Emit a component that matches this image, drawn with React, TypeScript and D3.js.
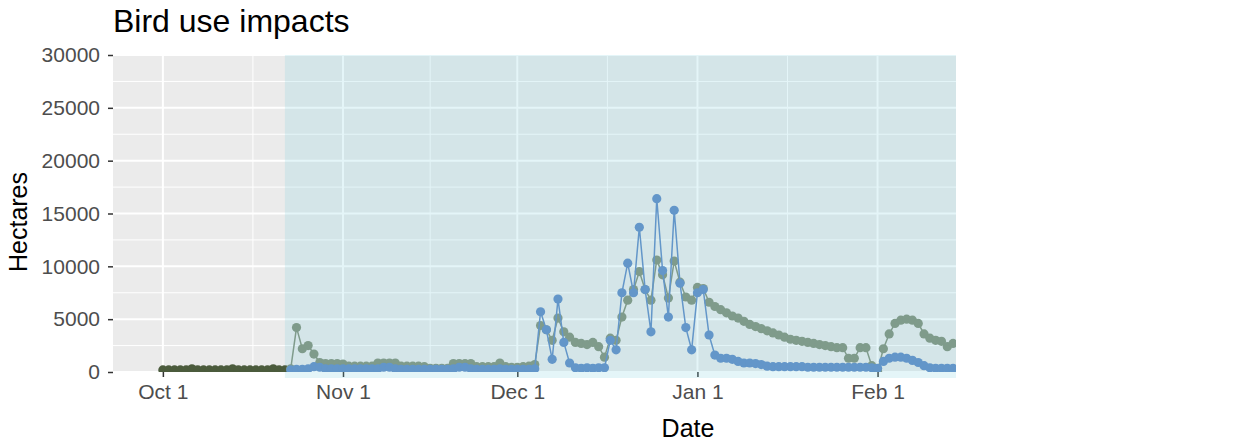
import React, { useEffect, useRef } from 'react';
import * as d3 from 'd3';

// pre-season series, daily from Oct 1
const earlyStart = '2019-10-01';
const earlyHa = [
  200, 200, 200, 200, 200, 300, 200, 200, 200, 200, 200,
  200, 300, 200, 200, 200, 200, 200, 200, 300, 200, 200,
];

// season series, daily from Oct 23
const seasonStart = '2019-10-23';
const greenHa = [
  300, 4200, 2200, 2500, 1700, 900, 800, 800, 800, 750,
  550, 550, 550, 550, 550, 850, 850, 850, 850, 550,
  550, 550, 550, 500, 350, 350, 350, 350, 800, 800,
  800, 800, 500, 500, 500, 500, 850, 500, 450, 450,
  500, 550, 700, 4400, 4000, 3000, 5100, 3800, 3300, 2800,
  2700, 2600, 2800, 2400, 1400, 3200, 3000, 5200, 6800, 7800,
  9500, 7800, 6800, 10600, 9200, 7000, 10500, 8500, 7100, 6800,
  8000, 7900, 6600, 6200, 5900, 5600, 5300, 5100, 4800, 4500,
  4300, 4100, 3900, 3700, 3500, 3300, 3100, 3000, 2900, 2800,
  2700, 2600, 2500, 2400, 2300, 2300, 1300, 1300, 2300, 2300,
  600, 100, 2200, 3600, 4600, 4900, 5000, 4900, 4600, 3600,
  3200, 3000, 2900, 2400, 2700,
];
const blueHa = [
  200, 250, 250, 300, 500, 450, 300, 300, 300, 300,
  300, 300, 300, 300, 300, 300, 450, 450, 300, 250,
  250, 250, 250, 250, 250, 250, 250, 250, 300, 450,
  450, 300, 250, 250, 250, 250, 300, 250, 250, 250,
  250, 250, 300, 5700, 4000, 1200, 6900, 2800, 850, 400,
  350, 400, 350, 400, 400, 3000, 2100, 7500, 10300, 7500,
  13700, 7800, 3800, 16400, 9600, 5200, 15300, 8400, 4200, 2100,
  7500, 7800, 3500, 1600, 1300, 1300, 1200, 1000, 850, 850,
  800, 700, 550, 500, 500, 500, 500, 500, 500, 450,
  450, 450, 450, 450, 450, 450, 450, 450, 450, 450,
  400, 350, 1000, 1300, 1400, 1400, 1300, 1100, 900, 600,
  400, 350, 350, 350, 350,
];

const monthTicks = ['2019-10-01', '2019-11-01', '2019-12-01', '2020-01-01', '2020-02-01'];
const monthLabels = ['Oct 1', 'Nov 1', 'Dec 1', 'Jan 1', 'Feb 1'];
const yTicks = [0, 5000, 10000, 15000, 20000, 25000, 30000];
const yMinor = [2500, 7500, 12500, 17500, 22500, 27500];
const xLimits = ['2019-09-22 10:00', '2020-02-14 12:00'];
const shadeFrom = '2019-10-22';

const W = 1257;
const H = 443;
const FONT = '"Liberation Sans", Arial, sans-serif';

const App = () => {
  const svgRef = useRef<SVGSVGElement>(null);

  useEffect(() => {
    const svg = d3.select(svgRef.current);
    svg.selectAll('*').remove();

    const parseDay = d3.timeParse('%Y-%m-%d');
    const parseTime = d3.timeParse('%Y-%m-%d %H:%M');
    const left = 113;
    const right = 956;
    const top = 55;
    const bottom = 372;

    const x = d3
      .scaleTime()
      .domain(xLimits.map((s) => parseTime(s) as Date))
      .range([left, right]);
    const y = d3.scaleLinear().domain([0, 30000]).range([bottom, top]);

    const toPoints = (start: string, vals: number[]) => {
      const s = parseDay(start) as Date;
      return vals.map((v, i) => ({ date: d3.timeDay.offset(s, i), v }));
    };
    const early = toPoints(earlyStart, earlyHa);
    const green = toPoints(seasonStart, greenHa);
    const blue = toPoints(seasonStart, blueHa);

    const majors = monthTicks.map((s) => parseDay(s) as Date);
    const minors = d3
      .pairs(majors)
      .map(([a, b]) => new Date((a.getTime() + b.getTime()) / 2));

    // panel
    svg
      .append('rect')
      .attr('x', left)
      .attr('y', top)
      .attr('width', right - left)
      .attr('height', bottom - top)
      .attr('fill', '#ebebeb');

    // grid
    const grid = svg.append('g');
    grid
      .selectAll('line.ym')
      .data(yMinor)
      .enter()
      .append('line')
      .attr('x1', left)
      .attr('x2', right)
      .attr('y1', (d) => y(d))
      .attr('y2', (d) => y(d))
      .attr('stroke', '#fff')
      .attr('stroke-width', 1);
    grid
      .selectAll('line.xm')
      .data(minors)
      .enter()
      .append('line')
      .attr('x1', (d) => x(d))
      .attr('x2', (d) => x(d))
      .attr('y1', top)
      .attr('y2', bottom)
      .attr('stroke', '#fff')
      .attr('stroke-width', 1);
    grid
      .selectAll('line.yM')
      .data(yTicks)
      .enter()
      .append('line')
      .attr('x1', left)
      .attr('x2', right)
      .attr('y1', (d) => y(d))
      .attr('y2', (d) => y(d))
      .attr('stroke', '#fff')
      .attr('stroke-width', 2);
    grid
      .selectAll('line.xM')
      .data(majors)
      .enter()
      .append('line')
      .attr('x1', (d) => x(d))
      .attr('x2', (d) => x(d))
      .attr('y1', top)
      .attr('y2', bottom)
      .attr('stroke', '#fff')
      .attr('stroke-width', 2);

    // x axis
    const xAxis = d3
      .axisBottom(x)
      .tickValues(majors)
      .tickFormat((_, i) => monthLabels[i])
      .tickSize(5)
      .tickPadding(7);
    const gx = svg.append('g').attr('transform', `translate(0, ${bottom})`).call(xAxis);
    gx.select('.domain').remove();
    gx.selectAll('line').attr('stroke', '#333').attr('stroke-width', 1.5);
    gx.selectAll('text')
      .attr('fill', '#4d4d4d')
      .attr('font-size', 21)
      .attr('font-family', FONT);

    // y axis
    const yAxis = d3
      .axisLeft(y)
      .tickValues(yTicks)
      .tickFormat(d3.format('d'))
      .tickSize(5)
      .tickPadding(8);
    const gy = svg.append('g').attr('transform', `translate(${left}, 0)`).call(yAxis);
    gy.select('.domain').remove();
    gy.selectAll('line').attr('stroke', '#333').attr('stroke-width', 1.5);
    gy.selectAll('text')
      .attr('fill', '#4d4d4d')
      .attr('font-size', 21)
      .attr('font-family', FONT);

    // shaded season
    const sx = x(parseDay(shadeFrom) as Date);
    svg
      .append('rect')
      .attr('x', sx)
      .attr('y', top)
      .attr('width', right - sx)
      .attr('height', bottom - top + 6)
      .attr('fill', 'rgb(120,205,220)')
      .attr('opacity', 0.2);

    // data
    svg
      .append('clipPath')
      .attr('id', 'panel-clip')
      .append('rect')
      .attr('x', left)
      .attr('y', top)
      .attr('width', right - left)
      .attr('height', bottom - top);
    const plot = svg.append('g').attr('clip-path', 'url(#panel-clip)');

    const line = d3
      .line<{ date: Date; v: number }>()
      .x((d) => x(d.date))
      .y((d) => y(d.v));

    const drawSeries = (pts: { date: Date; v: number }[], color: string) => {
      plot
        .append('path')
        .datum(pts)
        .attr('d', line)
        .attr('fill', 'none')
        .attr('stroke', color)
        .attr('stroke-width', 1.5);
      plot
        .append('g')
        .selectAll('circle')
        .data(pts)
        .enter()
        .append('circle')
        .attr('cx', (d) => x(d.date))
        .attr('cy', (d) => y(d.v))
        .attr('r', 4.6)
        .attr('fill', color);
    };
    drawSeries(early, '#4b5b3c');
    drawSeries(green, '#7f9b8b');
    drawSeries(blue, '#6396c9');

    // titles
    svg
      .append('text')
      .attr('x', left)
      .attr('y', 32)
      .attr('font-size', 32)
      .attr('font-family', FONT)
      .attr('fill', '#000')
      .text('Bird use impacts');
    svg
      .append('text')
      .attr('x', 688)
      .attr('y', 437)
      .attr('text-anchor', 'middle')
      .attr('font-size', 25)
      .attr('font-family', FONT)
      .attr('fill', '#000')
      .text('Date');
    svg
      .append('text')
      .attr('transform', 'translate(27, 222) rotate(-90)')
      .attr('text-anchor', 'middle')
      .attr('font-size', 25)
      .attr('font-family', FONT)
      .attr('fill', '#000')
      .text('Hectares');
  }, []);

  return (
    <svg
      ref={svgRef}
      width={W}
      height={H}
      style={{ position: 'absolute', left: 0, top: 0, background: '#fff' }}
    ></svg>
  );
};

export default App;
